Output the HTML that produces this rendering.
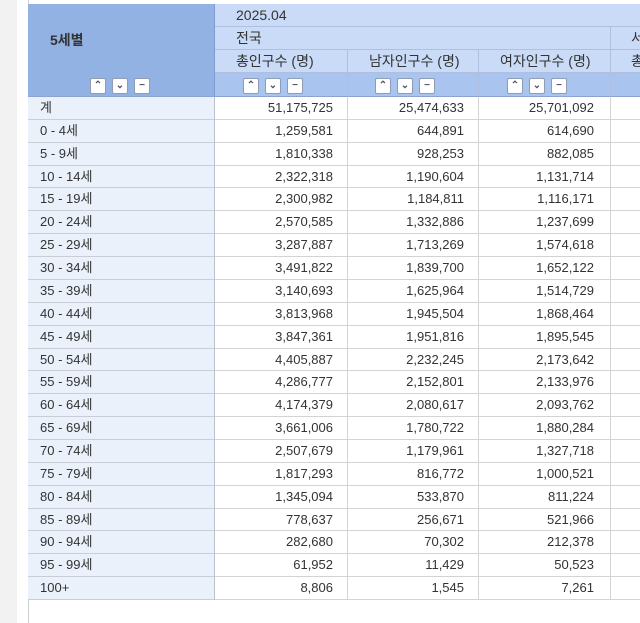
<!DOCTYPE html>
<html><head><meta charset="utf-8"><style>
body{margin:0;width:640px;height:623px;background:#fff;position:relative;overflow:hidden;font-family:"Liberation Sans","Noto Sans CJK KR",sans-serif;font-size:13px;color:#333}
.strip{position:absolute;left:0;top:0;width:17px;height:623px;background:#f2f2f3}
.vl{position:absolute;left:28px;top:0;width:1px;height:623px;background:#cfcfcf}
.c{position:absolute;box-sizing:border-box;white-space:nowrap;line-height:22px}
.b{position:absolute;width:16px;height:16px;background:#fff;border:1px solid #8f9cb3;box-sizing:border-box;border-radius:2px;font-size:10px;line-height:13px;text-align:center;color:#556;font-weight:bold}
</style></head><body>
<div class="strip"></div><div class="vl"></div>
<div id="t"></div>
<script>
var h='';
function box(x,y,w,hh,bg,txt,st){h+='<div class="c" style="left:'+x+'px;top:'+y+'px;width:'+w+'px;height:'+hh+'px;background:'+bg+';'+(st||'')+'">'+(txt||'')+'</div>';}
box(28,4,187,93,'#93b2e4','<b>5세별</b>','padding:25px 0 0 22px;border-right:1px solid #7f9bd0;font-size:14px;');
box(28,73,187,24,'#93b2e4','','border-right:1px solid #7f9bd0;border-bottom:1px solid #8aa3d2;');
box(215,4,425,23,'#c9dbf6','2025.04','padding-left:21px;border-bottom:1px solid #aebfe0;font-size:14px;');
box(215,27,395,23,'#c9dbf6','전국','padding-left:21px;border-bottom:1px solid #aebfe0;font-size:14px;');
box(610,27,30,23,'#c9dbf6','서','padding-left:20px;border-left:1px solid #aebfe0;border-bottom:1px solid #aebfe0;font-size:14px;');
var cols=[[215,132,'총인구수 (명)'],[347,131,'남자인구수 (명)'],[478,132,'여자인구수 (명)'],[610,40,'총']];
cols.forEach(function(c,i){
 box(c[0],50,c[1],23,'#c9dbf6',c[2],'font-size:14px;padding-left:'+(i==3?20:21)+'px;border-bottom:1px solid #aebfe0;'+(i?'border-left:1px solid #aebfe0;':''));
 box(c[0],73,c[1],24,'#a9c4ee','','border-bottom:1px solid #8aa3d2;'+(i?'border-left:1px solid #aebfe0;':''));
});
function btn(x){h+='<div class="b" style="left:'+x+'px;top:78px">&#8963;</div><div class="b" style="left:'+(x+22)+'px;top:78px">&#8964;</div><div class="b" style="left:'+(x+44)+'px;top:78px">&minus;</div>';}
btn(90);btn(243);btn(375);btn(507);
var rows=[["계","51,175,725","25,474,633","25,701,092"],["0 - 4세","1,259,581","644,891","614,690"],["5 - 9세","1,810,338","928,253","882,085"],["10 - 14세","2,322,318","1,190,604","1,131,714"],["15 - 19세","2,300,982","1,184,811","1,116,171"],["20 - 24세","2,570,585","1,332,886","1,237,699"],["25 - 29세","3,287,887","1,713,269","1,574,618"],["30 - 34세","3,491,822","1,839,700","1,652,122"],["35 - 39세","3,140,693","1,625,964","1,514,729"],["40 - 44세","3,813,968","1,945,504","1,868,464"],["45 - 49세","3,847,361","1,951,816","1,895,545"],["50 - 54세","4,405,887","2,232,245","2,173,642"],["55 - 59세","4,286,777","2,152,801","2,133,976"],["60 - 64세","4,174,379","2,080,617","2,093,762"],["65 - 69세","3,661,006","1,780,722","1,880,284"],["70 - 74세","2,507,679","1,179,961","1,327,718"],["75 - 79세","1,817,293","816,772","1,000,521"],["80 - 84세","1,345,094","533,870","811,224"],["85 - 89세","778,637","256,671","521,966"],["90 - 94세","282,680","70,302","212,378"],["95 - 99세","61,952","11,429","50,523"],["100+","8,806","1,545","7,261"]];
var rh=503/22;
rows.forEach(function(r,i){
 var y=Math.round(97+i*rh),y2=Math.round(97+(i+1)*rh),hh=y2-y;
 box(28,y,187,hh,'#eaf1fb',r[0],'padding-left:12px;border-bottom:1px solid #c9ced6;border-right:1px solid #b8c2d2;');
 for(var k=0;k<3;k++){box(cols[k][0],y,cols[k][1],hh,'#fff',r[k+1],'text-align:right;padding-right:'+(k==2?16:14)+'px;border-bottom:1px solid #d3d3d3;'+(k?'border-left:1px solid #d3d3d3;':''));}
 box(610,y,30,hh,'#fff','','border-left:1px solid #d3d3d3;border-bottom:1px solid #d3d3d3;');
});
document.getElementById('t').innerHTML=h;
</script>
</body></html>
